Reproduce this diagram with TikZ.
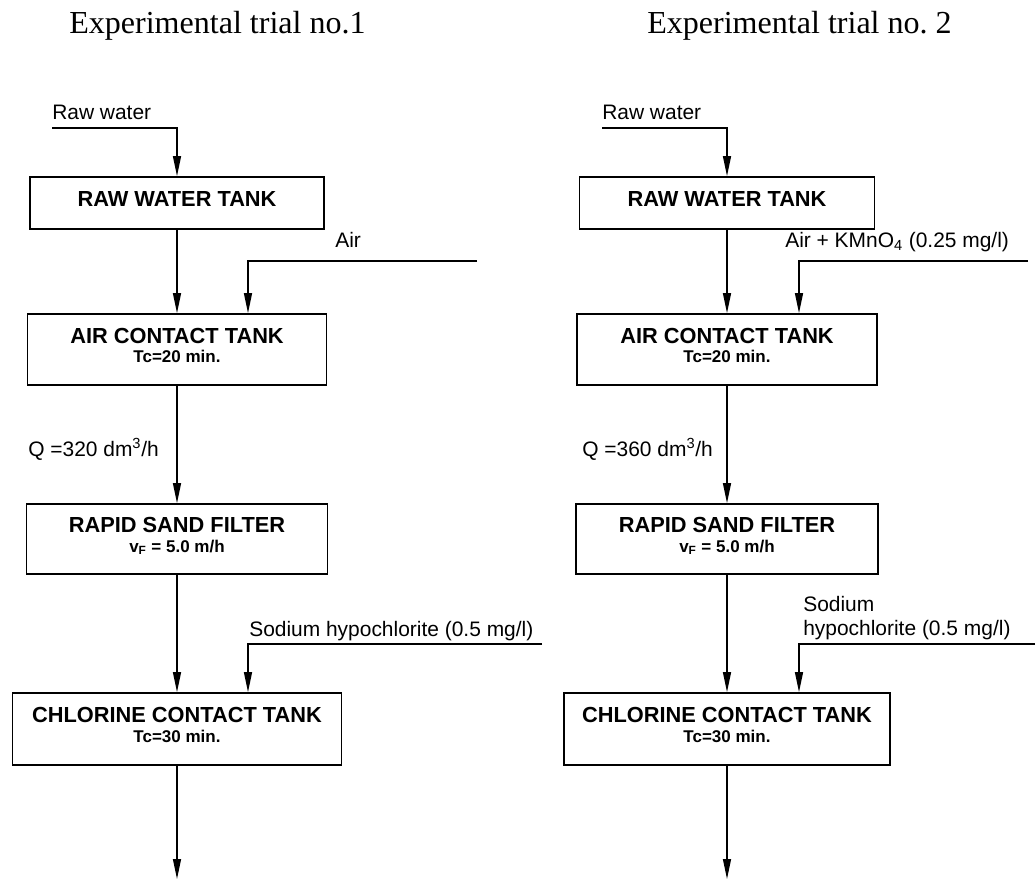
\documentclass[tikz,border=0pt]{standalone}
\usepackage{fontspec}
\setmainfont{Liberation Sans}
\newfontfamily\titlefont{Liberation Serif}
\usetikzlibrary{positioning,arrows.meta,calc}
\newcommand{\subline}{\fontsize{12.1}{14}\selectfont}

\begin{document}
\begin{tikzpicture}[
  x=0.25mm, y=-0.25mm,
  >={Triangle[length=5mm,width=2mm]},
  tank/.style={draw, line width=1.25pt, align=center, inner sep=0pt,
               text depth=2mm, font=\fontsize{15.5}{14}\selectfont\bfseries},
  flow/.style={->, line width=0.95pt},
  lbl/.style={anchor=base west, inner sep=0pt, align=left,
              font=\fontsize{14.9}{17.1}\selectfont},
  ttl/.style={anchor=base west, inner sep=0pt,
              font=\titlefont\fontsize{22.8}{27}\selectfont},
]
\useasboundingbox (0,0) rectangle (1036,881);

% trial 1
\node[ttl] (ttl1) at (69,33) {Experimental trial no.1};
\node[tank, minimum width=73.5mm, minimum height=13mm]   (rwt1) at (177,203)   {RAW WATER TANK};
\node[tank, minimum width=74.75mm, minimum height=17.75mm] (act1) at (177,349.5) {AIR CONTACT TANK\\\subline Tc=20 min.};
\node[tank, minimum width=75.25mm, minimum height=17.5mm] (rsf1) at (177,539)   {RAPID SAND FILTER\\\subline v\textsubscript{F} = 5.0 m/h};
\node[tank, minimum width=82.25mm, minimum height=18mm]   (cct1) at (177,729)   {CHLORINE CONTACT TANK\\\subline Tc=30 min.};

\node[lbl] (rwl1)  at (52,119)  {Raw water};
\node[lbl] (airl1) at (335,247) {Air};
\node[lbl] (ql1)   at (28,456)  {Q =320 dm\textsuperscript{3}/h};
\node[lbl] (nal1)  at (249,636) {Sodium hypochlorite (0.5 mg/l)};

\coordinate (rwin1) at (52,128);
\coordinate (airin1) at (477,261);
\coordinate (naocl1) at (542,644);
\coordinate (out1) at (177,879);

\draw[flow] (rwin1) -| (rwt1.north);
\draw[flow] (rwt1) -- (act1);
\draw[flow] (airin1) -| ($(act1.north)+(71,0)$);
\draw[flow] (act1) -- (rsf1);
\draw[flow] (rsf1) -- (cct1);
\draw[flow] (naocl1) -| ($(cct1.north)+(71,0)$);
\draw[flow] (cct1) -- (out1);

% trial 2
\node[ttl] (ttl2) at (647,33) {Experimental trial no.\ 2};
\node[tank, minimum width=73.75mm, minimum height=13mm]   (rwt2) at (727,203)   {RAW WATER TANK};
\node[tank, minimum width=75mm, minimum height=17.75mm]   (act2) at (727,349.5) {AIR CONTACT TANK\\\subline Tc=20 min.};
\node[tank, minimum width=75.5mm, minimum height=17.5mm]  (rsf2) at (727,539)   {RAPID SAND FILTER\\\subline v\textsubscript{F} = 5.0 m/h};
\node[tank, minimum width=81.5mm, minimum height=18mm]    (cct2) at (727,729)   {CHLORINE CONTACT TANK\\\subline Tc=30 min.};

\node[lbl] (rwl2)  at (602,119) {Raw water};
\node[lbl] (airl2) at (785,247) {Air + KMnO\textsubscript{4} (0.25 mg/l)};
\node[lbl] (ql2)   at (582,456) {Q =360 dm\textsuperscript{3}/h};
\node[lbl, anchor=south west] (nal2) at (803,640) {Sodium\\hypochlorite (0.5 mg/l)};

\coordinate (rwin2) at (602,128);
\coordinate (airin2) at (1028,261);
\coordinate (naocl2) at (1035,644);
\coordinate (out2) at (727,879);

\draw[flow] (rwin2) -| (rwt2.north);
\draw[flow] (rwt2) -- (act2);
\draw[flow] (airin2) -| ($(act2.north)+(72,0)$);
\draw[flow] (act2) -- (rsf2);
\draw[flow] (rsf2) -- (cct2);
\draw[flow] (naocl2) -| ($(cct2.north)+(72,0)$);
\draw[flow] (cct2) -- (out2);
\end{tikzpicture}
\end{document}
